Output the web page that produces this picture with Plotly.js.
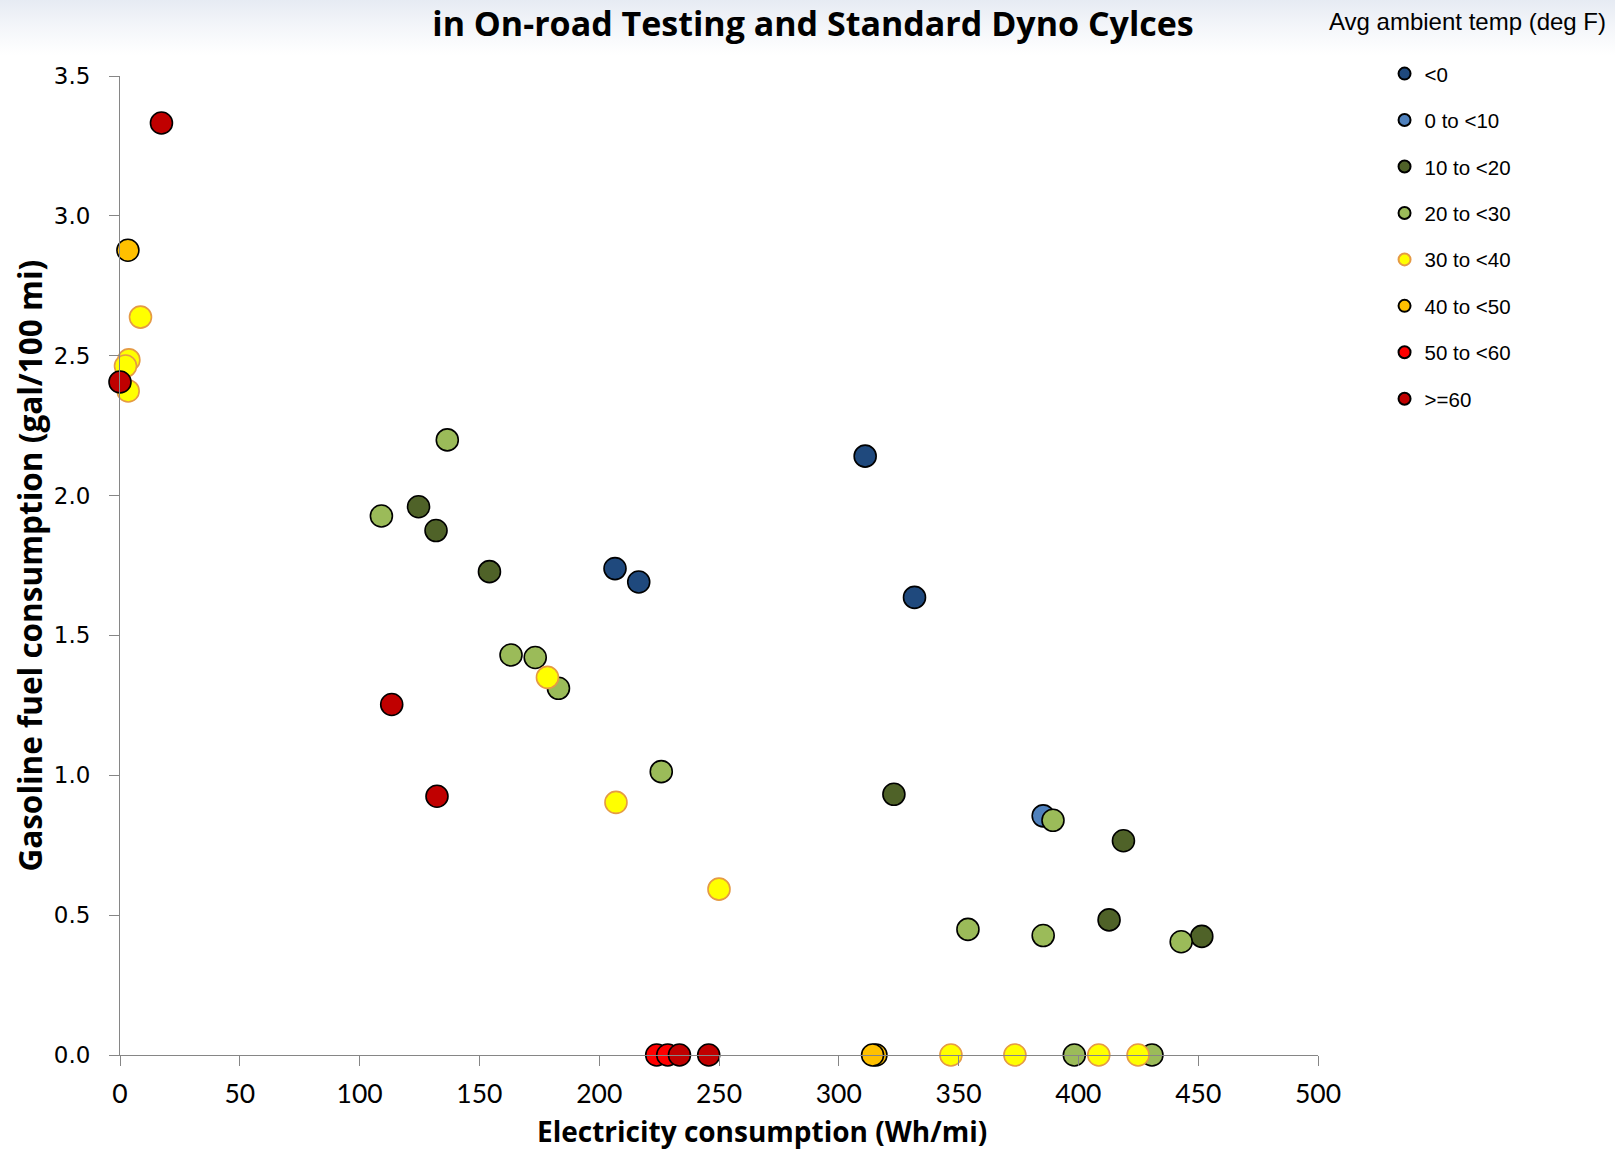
<!DOCTYPE html>
<html>
<head>
<meta charset="utf-8">
<script src="https://cdn.plot.ly/plotly-3.0.1.min.js"></script>
<style>
  html, body { margin: 0; padding: 0; }
  body { width: 1615px; height: 1152px; background: linear-gradient(to bottom, #e6ebf3 0px, #f3f5f9 25px, #ffffff 55px); }
  #chart { width: 1615px; height: 1152px; }
</style>
</head>
<body>
<div id="chart"></div>
<script>
// Category names (legend)
const categories = ["<0", "0 to <10", "10 to <20", "20 to <30", "30 to <40", "40 to <50", "50 to <60", ">=60"];

// Electricity consumption (Wh/mi) per category
const xLt0   = [311.0, 206.6, 216.5, 331.6];
const x0to10 = [385.3];
const x10to20 = [124.6, 131.9, 154.2, 323.0, 418.8, 412.8, 451.5];
const x20to30 = [136.6, 109.1, 163.2, 173.3, 183.0, 225.9, 389.4, 353.9, 385.3, 442.9, 398.3, 430.7];
const x30to40 = [8.55, 3.7, 2.3, 3.4, 178.4, 207.0, 250.0, 346.8, 373.5, 408.5, 424.9];
const x40to50 = [3.3, 315.5, 314.1];
const x50to60 = [224.0, 228.6];
const xGe60  = [17.3, 0.0, 113.4, 132.3, 233.5, 245.7];

// Gasoline fuel consumption (gal/100 mi) per category
const yLt0   = [2.141, 1.739, 1.691, 1.636];
const y0to10 = [0.855];
const y10to20 = [1.960, 1.875, 1.728, 0.932, 0.766, 0.483, 0.424];
const y20to30 = [2.199, 1.927, 1.430, 1.421, 1.311, 1.013, 0.839, 0.449, 0.427, 0.405, 0.0, 0.0];
const y30to40 = [2.638, 2.485, 2.463, 2.374, 1.350, 0.903, 0.593, 0.0, 0.0, 0.0, 0.0];
const y40to50 = [2.877, 0.0, 0.0];
const y50to60 = [0.0, 0.0];
const yGe60  = [3.332, 2.406, 1.253, 0.925, 0.0, 0.0];

const xTickVals = [0, 50, 100, 150, 200, 250, 300, 350, 400, 450, 500];
const yTickVals = [0, 0.5, 1.0, 1.5, 2.0, 2.5, 3.0, 3.5];

const xs = [xLt0, x0to10, x10to20, x20to30, x30to40, x40to50, x50to60, xGe60];
const ys = [yLt0, y0to10, y10to20, y20to30, y30to40, y40to50, y50to60, yGe60];

const fillColors = ["#1F497D", "#4F81BD", "#4F6228", "#9BBB59", "#FFFF00", "#FFC000", "#FF0000", "#C00000"];
const lineColors = ["#000000", "#000000", "#000000", "#000000", "#E59A45", "#000000", "#000000", "#000000"];

const traces = categories.map((name, i) => ({
  type: "scatter",
  mode: "markers",
  name: name,
  legendgroup: "g" + i,
  x: xs[i],
  y: ys[i],
  cliponaxis: false,
  marker: {
    size: 22,
    color: fillColors[i],
    line: { color: lineColors[i], width: 1.6 }
  },
  hoverinfo: "x+y+name"
}));

const W = 1615, H = 1152;
const mL = 119.5, mR = 296.6, mT = 76.2, mB = 97.3;
const pw = W - mL - mR, ph = H - mT - mB;
const px = (X) => (X - mL) / pw;
const py = (Y) => (H - mB - Y) / ph;

const layout = {
  width: W, height: H,
  paper_bgcolor: "rgba(0,0,0,0)",
  plot_bgcolor: "rgba(0,0,0,0)",
  margin: { l: mL, r: mR, t: mT, b: mB, pad: 0 },
  showlegend: true,
  title: {
    text: "in On-road Testing and Standard Dyno Cylces",
    font: { family: "'Open Sans', Lato, sans-serif", size: 34, color: "#000000", weight: 700 },
    xref: "container", x: 813 / W, xanchor: "center",
    yref: "container", y: 1 - 24 / H, yanchor: "middle"
  },
  xaxis: {
    range: [0, 500],
    tickvals: xTickVals,
    showgrid: false, zeroline: false,
    showline: true, linecolor: "#868686", linewidth: 1,
    ticks: "outside", ticklen: 10, tickcolor: "#868686", tickwidth: 1,
    tickfont: { family: "Lato, sans-serif", size: 26.5, color: "#000000" },
    ticklabelstandoff: 5,
    fixedrange: true
  },
  yaxis: {
    range: [0, 3.5],
    tickvals: yTickVals,
    tickformat: ".1f",
    showgrid: false, zeroline: false,
    showline: true, linecolor: "#868686", linewidth: 1,
    ticks: "outside", ticklen: 10, tickcolor: "#868686", tickwidth: 1,
    tickfont: { family: "'DejaVu Sans', sans-serif", size: 23, color: "#000000" },
    ticklabelstandoff: 14,
    fixedrange: true
  },
  legend: {
    x: px(1385), xanchor: "left",
    y: py(54), yanchor: "top",
    bgcolor: "rgba(0,0,0,0)",
    borderwidth: 0,
    itemsizing: "constant",
    tracegroupgap: 16.8,
    traceorder: "grouped",
    font: { family: "'Liberation Sans', Arial, sans-serif", size: 20.5, color: "#000000" }
  },
  annotations: [
    {
      text: "Avg ambient temp (deg F)",
      xref: "paper", yref: "paper",
      x: px(1609), xanchor: "right",
      y: py(22), yanchor: "middle",
      showarrow: false,
      font: { family: "'Liberation Sans', Arial, sans-serif", size: 24, color: "#000000" }
    },
    {
      text: "Electricity consumption (Wh/mi)",
      xref: "paper", yref: "paper",
      x: px(762), xanchor: "center",
      y: py(1131), yanchor: "middle",
      showarrow: false,
      font: { family: "'Open Sans', sans-serif", size: 28, color: "#000000", weight: 700 }
    },
    {
      text: "Gasoline fuel consumption (gal/100 mi)",
      xref: "paper", yref: "paper",
      x: px(28), xanchor: "center",
      y: py(566), yanchor: "middle",
      textangle: -90,
      showarrow: false,
      font: { family: "'Open Sans', sans-serif", size: 31.5, color: "#000000", weight: 700 }
    }
  ]
};

Plotly.newPlot("chart", traces, layout, { displayModeBar: false, responsive: false });
</script>
</body>
</html>
